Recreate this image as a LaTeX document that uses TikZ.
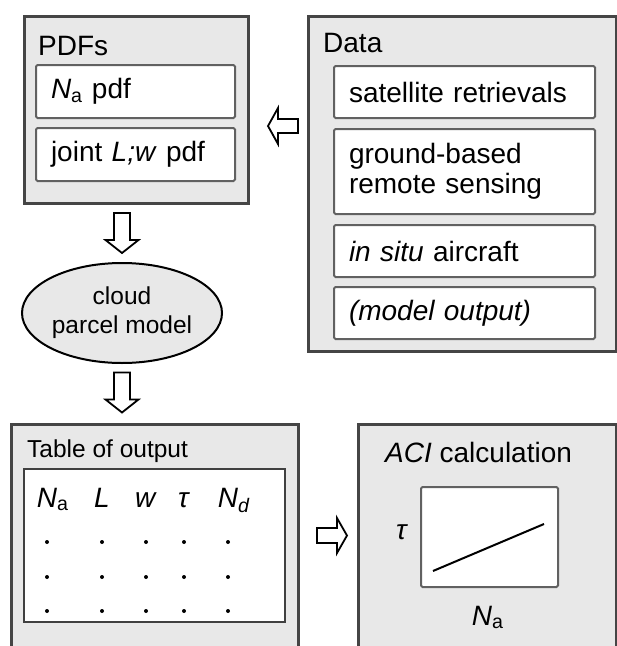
\documentclass[tikz,border=0pt]{standalone}
\usepackage{fontspec}
\setmainfont{Liberation Sans}
\usepackage{xcolor}
\usetikzlibrary{shapes.geometric}
\usetikzlibrary{positioning}

\definecolor{panelfill}{gray}{0.91}
\definecolor{panelline}{gray}{0.27}
\definecolor{itemline}{gray}{0.38}

\newcommand{\bigfont}{\fontsize{28}{30}\selectfont}
\newcommand{\smallfont}{\fontsize{24.5}{29}\selectfont}

\tikzset{
  panel/.style={draw=panelline, line width=2.6pt, fill=panelfill, anchor=north west, inner sep=0pt},
  item/.style={draw=itemline, line width=2pt, fill=white, rounded corners=1.5pt, anchor=north west,
    inner xsep=15pt, inner ysep=0pt, align=left, font=\bigfont},
  heading/.style={anchor=base west, inner sep=0pt, font=\bigfont},
  % half length, half shaft, half head, head length
  pics/hollowarrow/.style n args={4}{code={
    \draw[line width=1.8pt, fill=white, line join=miter]
      (-#1,-#2) -- (#1-#4,-#2) -- (#1-#4,-#3) -- (#1,0) -- (#1-#4,#3) -- (#1-#4,#2) -- (-#1,#2) -- cycle;
  }},
}

\begin{document}
\begin{tikzpicture}[x=1pt,y=-1pt]
        \useasboundingbox (0,0) rectangle (617,646);
        \clip (0,0) rectangle (617,646);

        % panels
        \node[panel, minimum width=224pt, minimum height=187pt] (pdfs) at (23,15) {};
        \node[panel, minimum width=308pt, minimum height=335pt] (data) at (307,15) {};
        \node[panel, minimum width=287pt, minimum height=240pt] (table) at (10,423) {};
        \node[panel, minimum width=258pt, minimum height=240pt] (aci) at (357,423) {};

        \node[heading] (pdfstitle) at (38,55) {PDFs};
        \node[heading] (datatitle) at (323,52) {Data};
        \node[heading, font=\smallfont] (tabletitle) at (27,457) {Table of output};
        \node[heading] (acititle) at (385,462) {\textit{ACI} calculation};

        \node[item, text width=169pt, minimum height=53pt] (napdf) at (35,64) {\textit{N}\textsubscript{a} pdf};
        \node[item, text width=169pt, minimum height=53pt] (jointpdf) at (35,127) {joint \textit{L;w} pdf};

        \node[item, text width=231pt, minimum height=52pt] (sat) at (333,65) {satellite retrievals};
        \node[item, text width=231pt, minimum height=85pt] (ground) at (333,128) {ground-based\\remote sensing};
        \node[item, text width=231pt, minimum height=52pt] (insitu) at (333,224) {\textit{in situ} aircraft};
        \node[item, text width=231pt, minimum height=52pt] (modelout) at (333,286) {\textit{(model output)}};

        \node[ellipse, draw=black, line width=2pt, fill=panelfill, minimum width=200pt, minimum height=100pt,
            inner sep=0pt, align=center, font=\smallfont] (cloud) at (122,313) {cloud\\parcel model};

        % block arrows
        \pic[rotate=180] (todata) at (283,126) {hollowarrow={15}{7}{18}{10}};
        \pic[rotate=-90] (tocloud) at (122,233) {hollowarrow={20}{8}{16.5}{13}};
        \pic[rotate=-90] (totable) at (122,392.5) {hollowarrow={20}{8}{16.5}{13}};
        \pic (toaci) at (332,535.5) {hollowarrow={15}{7.5}{17.5}{10}};

        % table of output
        \node[item, draw=black!75, line width=2.4pt, rounded corners=0pt, minimum width=261pt, minimum height=153pt] (grid) at (23,468) {};
        \foreach \sym/\xx [count=\i] in {{\textit{N}\rlap{\textsubscript{a}}}/47, {\textit{L}}/102, {\textit{w}}/146,
            {\textit{τ}}/184, {\textit{N}\rlap{\textsubscript{\textit{d}}}}/228} {
            \node[anchor=base, inner sep=0pt, font=\bigfont] (col\i) at (\xx,507) {\sym};
            \foreach \dy in {35,70,104}
                \fill ([yshift=-\dy pt]col\i.base) circle (2pt);
        }

        % ACI plot
        \node[item, minimum width=137pt, minimum height=100pt] (plot) at (420,486) {};
        \coordinate (lo) at (433,571);
        \coordinate (hi) at (544,524);
        \draw[line width=2pt] (lo) -- (hi);
        \node[inner sep=0pt, font=\bigfont] (tauaxis) at (402,532) {\textit{τ}};
        \node[anchor=base, inner sep=0pt, font=\bigfont] (naaxis) at (482,625) {\textit{N}\rlap{\textsubscript{a}}};
\end{tikzpicture}
\end{document}
